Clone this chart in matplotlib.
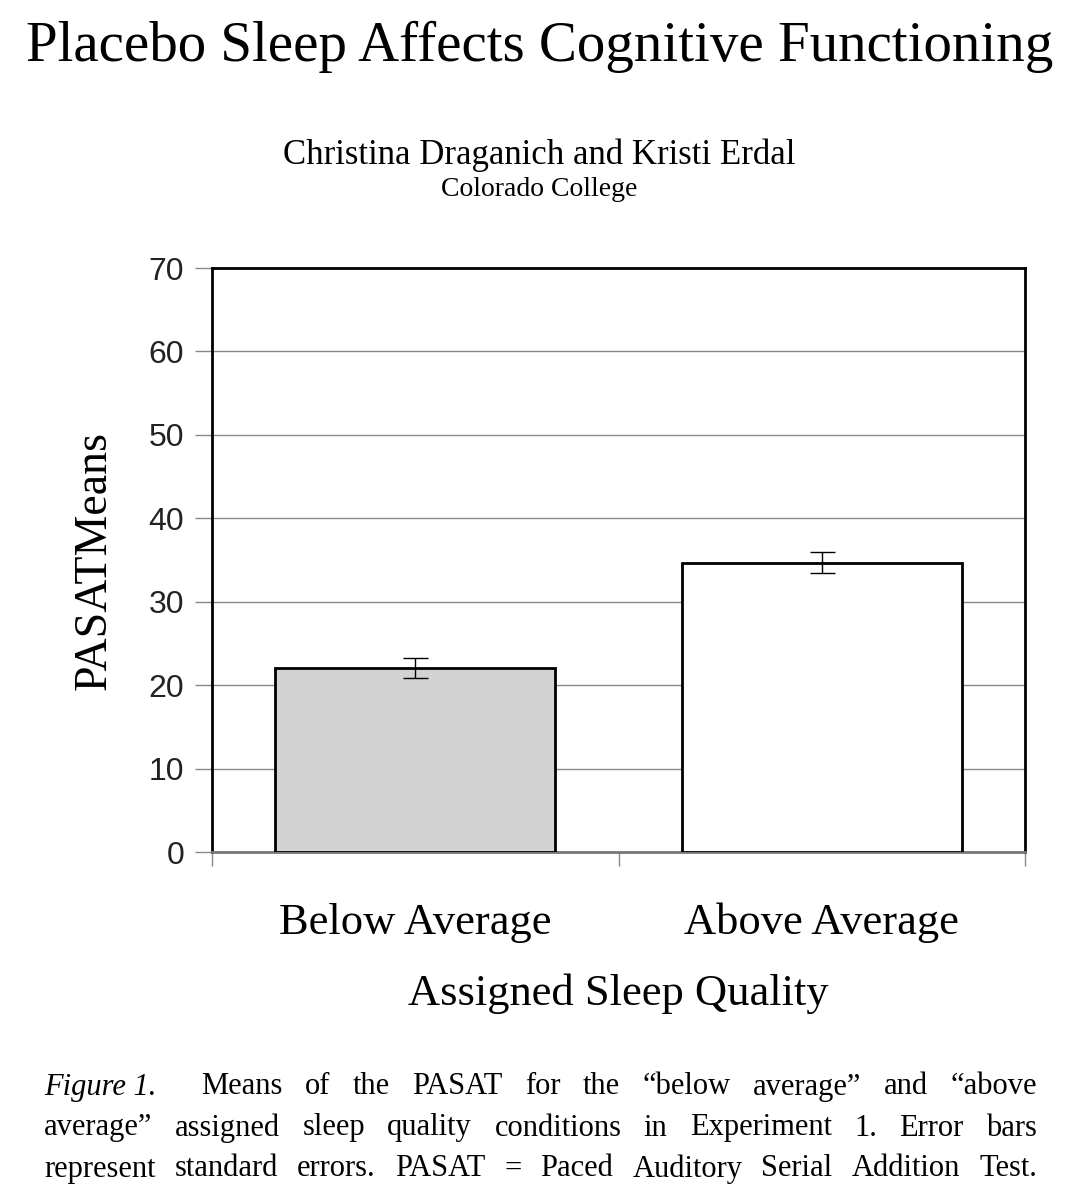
import matplotlib as mpl
mpl.use('Agg')
import matplotlib.pyplot as plt

# data
categories = ["Below Average", "Above Average"]
means = [22.0, 34.7]
errors = [1.2, 1.25]
bar_colors = ["#d3d3d3", "#ffffff"]
yticks = [0, 10, 20, 30, 40, 50, 60, 70]
caption = [
    (["Figure 1.", "", "Means", "of", "the", "PASAT", "for", "the", "\u201cbelow", "average\u201d", "and", "\u201cabove"], True),
    (["average\u201d", "assigned", "sleep", "quality", "conditions", "in", "Experiment", "1.", "Error", "bars"], True),
    (["represent", "standard", "errors.", "PASAT", "=", "Paced", "Auditory", "Serial", "Addition", "Test."], True),
]

serif = ["Liberation Serif", "DejaVu Serif"]
sans = ["Liberation Sans", "DejaVu Sans"]

fig = plt.figure(figsize=(10.79, 12), dpi=100, facecolor="w")
ax = fig.add_axes([212/1079, 1 - 852/1200, 813/1079, 584/1200])

xs = [0.5 + i for i in range(len(categories))]
ax.bar(xs, means, width=0.69, color=bar_colors, edgecolor="black", linewidth=2, zorder=3)
ax.errorbar(xs, means, yerr=errors, fmt="none", ecolor="black", elinewidth=1,
            capsize=9, capthick=1, zorder=4)

ax.set_xlim(0, 2)
ax.set_ylim(0, 70)
ax.set_yticks(yticks)
ax.set_yticklabels([str(t) for t in yticks], family=sans, fontsize=23, color="#222222")
ax.yaxis.grid(True, color="#888888", linewidth=1, zorder=0)
ax.set_xticks([0, 1, 2])
ax.set_xticklabels([])
ax.tick_params(axis="y", length=12, width=1, color="#888888", pad=8)
ax.tick_params(axis="x", length=10, width=1, color="#888888")
for side in ["top", "right", "left"]:
    ax.spines[side].set_linewidth(2)
    ax.spines[side].set_color("black")
ax.spines["bottom"].set_linewidth(2)
ax.spines["bottom"].set_color("#777777")

for x, c in zip(xs, categories):
    ax.text(x, -8.5, c, ha="center", va="center", family=serif, fontsize=32)
ax.text(1, -17, "Assigned Sleep Quality", ha="center", va="center", family=serif, fontsize=32)
ax.set_ylabel("PASATMeans", family=serif, fontsize=33, labelpad=24)

fig.text(0.5, 1 - 47/1200, "Placebo Sleep Affects Cognitive Functioning",
         ha="center", va="center", family=serif, fontsize=41)
fig.text(0.5, 1 - 155/1200, "Christina Draganich and Kristi Erdal",
         ha="center", va="center", family=serif, fontsize=25)
fig.text(0.5, 1 - 190/1200, "Colorado College",
         ha="center", va="center", family=serif, fontsize=20)

# justified caption
renderer = fig.canvas.get_renderer()
left, right = 44, 1037
for row, (words, justify) in enumerate(caption):
    y = 1 - (1087 + 41 * row) / 1200
    arts = []
    for w in words:
        style = "italic" if w == "Figure 1." else "normal"
        arts.append(fig.text(0, y, w, ha="left", va="center", family=serif,
                             fontsize=22, style=style))
    widths = [a.get_window_extent(renderer).width if a.get_text() else 0 for a in arts]
    gap = (right - left - sum(widths)) / (len(words) - 1)
    x = left
    for a, wd in zip(arts, widths):
        a.set_x(x / 1079)
        x += wd + gap

plt.savefig("out.png", dpi=100)
